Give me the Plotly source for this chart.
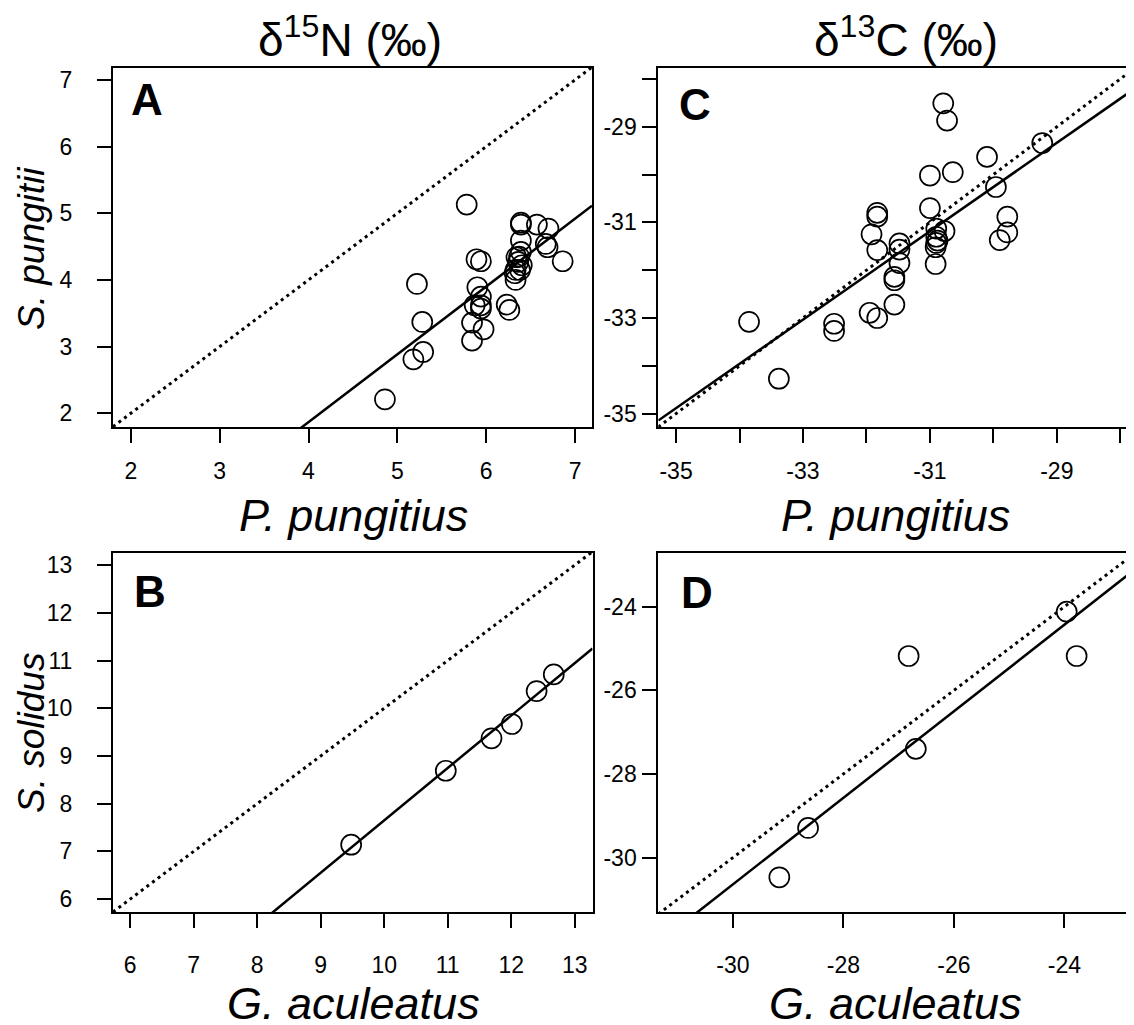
import plotly.graph_objects as go

W, H = 1134, 1025          # browser window
OFF = 8                    # default page margin of the html body
FW, FH = W - OFF, H - OFF  # figure size so that it fills the window

# ---------------- data ----------------
# Panel A: delta15N, P. pungitius (x) vs S. pungitii (y)
a_x = [5.78, 4.86, 5.22, 5.28, 5.29, 5.18, 5.89, 5.94, 5.90, 5.94, 5.94, 5.87, 5.94,
       5.84, 5.97, 5.84, 6.23, 6.26, 6.39, 6.39, 6.57, 6.70, 6.69, 6.67, 6.86, 6.39,
       6.39, 6.37, 6.34, 6.40, 6.36, 6.33, 6.38, 6.33, 6.32]
a_y = [5.13, 2.21, 3.94, 3.37, 2.92, 2.81, 4.31, 4.28, 3.89, 3.75, 3.62, 3.62, 3.57,
       3.36, 3.26, 3.09, 3.63, 3.55, 4.86, 4.83, 4.83, 4.77, 4.49, 4.54, 4.28, 4.59,
       4.42, 4.35, 4.34, 4.22, 4.27, 4.15, 4.15, 4.00, 4.10]

# Panel C: delta13C, P. pungitius (x) vs S. pungitii (y)
c_x = [-30.79, -30.73, -29.23, -30.10, -31.00, -30.64, -29.96, -31.00, -31.83, -31.83,
       -29.78, -29.78, -29.90, -31.92, -31.83, -31.48, -31.48, -31.48, -31.56, -31.56,
       -31.56, -31.95, -31.83, -32.51, -32.51, -33.85, -33.38, -30.90, -30.77, -30.90,
       -30.90, -30.91, -30.91, -30.88]
c_y = [-28.51, -28.87, -29.34, -29.63, -30.02, -29.95, -30.26, -30.70, -30.80, -30.88,
       -30.88, -31.21, -31.37, -31.25, -31.58, -31.44, -31.57, -31.85, -32.14, -32.21,
       -32.72, -32.89, -33.00, -33.12, -33.27, -33.08, -34.27, -31.13, -31.18, -31.30,
       -31.43, -31.52, -31.87, -31.38]

# Panel B: delta15N, G. aculeatus (x) vs S. solidus (y)
b_x = [9.48, 10.97, 11.69, 12.01, 12.40, 12.67]
b_y = [7.14, 8.69, 9.37, 9.67, 10.36, 10.71]

# Panel D: delta13C, G. aculeatus (x) vs S. solidus (y)
d_x = [-23.96, -23.78, -26.82, -26.69, -28.64, -29.16]
d_y = [-24.12, -25.18, -25.18, -27.40, -29.29, -30.47]

# fitted regression lines (slope, intercept)
a_fit = (1.017, -2.20)
c_fit = (0.925, -2.51)
b_fit = (1.098, -3.33)
d_fit = (1.035, 0.41)

# tick values / labels (labelled ticks) and unlabelled ticks
a_ticks = [2, 3, 4, 5, 6, 7]
a_labels = ["2", "3", "4", "5", "6", "7"]
a_minor = []
c_ticks = [-35, -33, -31, -29]
c_labels = ["-35", "-33", "-31", "-29"]
c_minor = [-34, -32, -30, -28]
b_ticks = [6, 7, 8, 9, 10, 11, 12, 13]
b_labels = ["6", "7", "8", "9", "10", "11", "12", "13"]
b_minor = []
d_ticks = [-30, -28, -26, -24]
d_labels = ["-30", "-28", "-26", "-24"]
d_minor = []

# ---------------- layout geometry (window pixels) ----------------
def px_x(v):
    return (v - OFF) / FW

def px_y(v):
    return 1 - (v - OFF) / FH

panels = {
    # name: (xaxis id, yaxis id, x px (left, right), y px (top, bottom), xrange, yrange)
    "A": ("x", "y", (113, 592), (67.5, 427), [1.80, 7.19], [1.795, 7.185]),
    "C": ("x2", "y2", (658.3, 1133), (67.5, 427), [-35.28, -27.80], [-35.28, -27.76]),
    "B": ("x3", "y3", (113, 592.5), (552.7, 912), [5.73, 13.28], [5.73, 13.26]),
    "D": ("x4", "y4", (658.3, 1133), (552.7, 912), [-31.35, -22.76], [-31.30, -22.71]),
}
data = {
    "A": (a_x, a_y, a_fit, a_ticks, a_labels, a_minor),
    "C": (c_x, c_y, c_fit, c_ticks, c_labels, c_minor),
    "B": (b_x, b_y, b_fit, b_ticks, b_labels, b_minor),
    "D": (d_x, d_y, d_fit, d_ticks, d_labels, d_minor),
}

fig = go.Figure()
FONT = "Liberation Sans, Arial, Helvetica, sans-serif"

for name, (xa, ya, xd, yd, xr, yr) in panels.items():
    xs, ys, fit, ticks, labels, minor = data[name]
    m, b = fit
    # 1:1 reference line (dotted)
    fig.add_trace(go.Scatter(x=[xr[0], xr[1]], y=[xr[0], xr[1]], xaxis=xa, yaxis=ya,
                             mode="lines", line=dict(color="black", width=3, dash="3px,4px"),
                             showlegend=False, hoverinfo="skip"))
    # fitted line (solid)
    fig.add_trace(go.Scatter(x=[xr[0], xr[1]], y=[m * xr[0] + b, m * xr[1] + b], xaxis=xa, yaxis=ya,
                             mode="lines", line=dict(color="black", width=2.5),
                             showlegend=False, hoverinfo="skip"))
    # points
    fig.add_trace(go.Scatter(x=xs, y=ys, xaxis=xa, yaxis=ya, mode="markers",
                             marker=dict(symbol="circle-open", size=20, color="black",
                                         line=dict(width=1.7, color="black")),
                             showlegend=False))

def axis_common(minor):
    d = dict(showgrid=False, zeroline=False, showline=True, mirror=True,
             linecolor="black", linewidth=2, ticks="outside", ticklen=14,
             tickwidth=1.5, tickcolor="black",
             tickfont=dict(family=FONT, size=23, color="black"))
    if minor:
        d["minor"] = dict(tickvals=minor, ticks="outside", ticklen=14, tickwidth=1.5,
                          tickcolor="black", showgrid=False)
    return d

layout = dict(width=FW, height=FH, margin=dict(l=0, r=0, t=0, b=0),
              plot_bgcolor="white", paper_bgcolor="white", showlegend=False)

x_standoff = {"A": 8, "C": 8, "B": 17, "D": 17}
y_standoff = {"A": 20, "C": 1, "B": 20, "D": 1}

for name, (xa, ya, xd, yd, xr, yr) in panels.items():
    xs, ys, fit, ticks, labels, minor = data[name]
    xkey = "xaxis" + xa[1:]
    ykey = "yaxis" + ya[1:]
    xax = axis_common(minor)
    xax.update(domain=[px_x(xd[0]), px_x(xd[1])], range=xr, anchor=ya,
               tickvals=ticks, ticktext=labels, ticklabelstandoff=x_standoff[name])
    yax = axis_common(minor)
    yax.update(domain=[px_y(yd[1]), px_y(yd[0])], range=yr, anchor=xa,
               tickvals=ticks, ticktext=labels, ticklabelstandoff=y_standoff[name])
    layout[xkey] = xax
    layout[ykey] = yax

fig.update_layout(**layout)

def ann(text, x, y, size, italic=False, bold=False, angle=0):
    t = text
    if bold:
        t = "<b>" + t + "</b>"
    if italic:
        t = "<i>" + t + "</i>"
    fig.add_annotation(text=t, x=px_x(x), y=px_y(y), xref="paper", yref="paper",
                       xanchor="center", yanchor="middle", showarrow=False,
                       textangle=angle, font=dict(family=FONT, size=size, color="black"))

# column titles
ann("δ<sup>15</sup>N (‰)", 350, 37, 46)
ann("δ<sup>13</sup>C (‰)", 906, 37, 46)
# x axis titles
ann("P. pungitius", 353, 515, 45, italic=True)
ann("P. pungitius", 895, 515, 45, italic=True)
ann("G. aculeatus", 353, 1003, 45, italic=True)
ann("G. aculeatus", 895, 1003, 45, italic=True)
# y axis titles
ann("S. pungitii", 31, 248, 37, italic=True, angle=-90)
ann("S. solidus", 31, 733, 37, italic=True, angle=-90)
# panel letters
ann("A", 147, 100, 44, bold=True)
ann("C", 695, 104, 44, bold=True)
ann("B", 150, 591, 44, bold=True)
ann("D", 697, 592, 44, bold=True)

fig.write_html("out.html")
